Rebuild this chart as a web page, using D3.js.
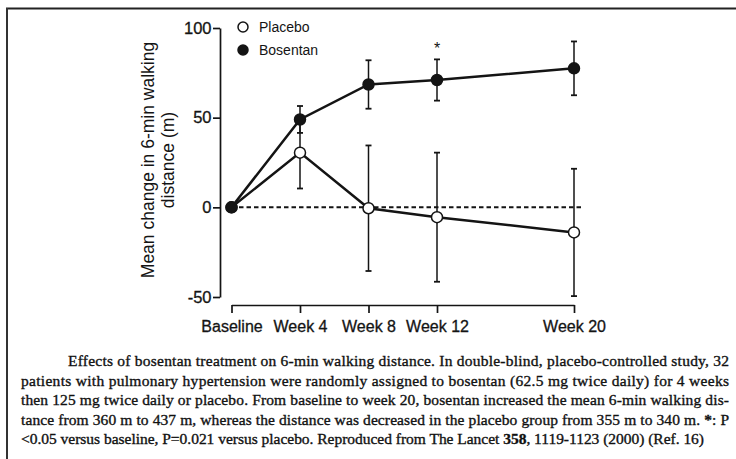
<!DOCTYPE html>
<html>
<head>
<meta charset="utf-8">
<script src="https://cdn.jsdelivr.net/npm/d3@7"></script>
<style>
  html, body { margin: 0; padding: 0; background: #fff; }
  svg { display: block; }
</style>
</head>
<body>
<svg id="chart" width="736" height="459"></svg>
<script>
// ---- data ----
const weeks = [0, 4, 8, 12, 20];
const tickLabels = ["Baseline", "Week 4", "Week 8", "Week 12", "Week 20"];
const yTicks = [-50, 0, 50, 100];
const placeboMean = [0, 30.5, -0.5, -5.5, -14];
const placeboErr = [0, 20, 35, 36, 35.5];
const bosentanMean = [0, 49, 68.5, 71, 77.5];
const bosentanErr = [0, 7.5, 13.5, 11.5, 15];
const seriesNames = ["Placebo", "Bosentan"];
const significantIndex = [3];

const captionLines = [
  [{t: "Effects of bosentan treatment on 6-min walking distance. In double-blind, placebo-controlled study, 32"}],
  [{t: "patients with pulmonary hypertension were randomly assigned to bosentan (62.5 mg twice daily) for 4 weeks"}],
  [{t: "then 125 mg twice daily or placebo. From baseline to week 20, bosentan increased the mean 6-min walking dis-"}],
  [{t: "tance from 360 m to 437 m, whereas the distance was decreased in the placebo group from 355 m to 340 m. "}, {t: "*", b: true}, {t: ": P"}],
  [{t: "<0.05 versus baseline, P=0.021 versus placebo. Reproduced from The Lancet "}, {t: "358", b: true}, {t: ", 1119-1123 (2000) (Ref. 16)"}]
];

// ---- layout ----
const svg = d3.select("#chart");
const ink = "#141414";
const sans = "'Liberation Sans', Arial, Helvetica, sans-serif";
const serif = "'Liberation Serif', 'Times New Roman', serif";

const x = d3.scaleLinear().domain([0, 20]).range([231.5, 574]);
const y = d3.scaleLinear().domain([-50, 100]).range([297, 28]);

// frame
svg.append("line").attr("x1", 6).attr("x2", 736).attr("y1", 8.5).attr("y2", 8.5)
  .attr("stroke", "#222").attr("stroke-width", 2);
svg.append("line").attr("x1", 7).attr("x2", 7).attr("y1", 8).attr("y2", 459)
  .attr("stroke", "#333").attr("stroke-width", 2);

// y axis
const yAxis = svg.append("g").attr("transform", "translate(220,0)")
  .call(d3.axisLeft(y).tickValues(yTicks).tickFormat(d => String(d))
    .tickSize(7).tickSizeOuter(0).tickPadding(1.5));
yAxis.select(".domain").attr("stroke", ink).attr("stroke-width", 1.7);
yAxis.selectAll(".tick line").attr("stroke", ink).attr("stroke-width", 1.7);
yAxis.selectAll(".tick text").attr("fill", ink).attr("font-family", sans).attr("font-size", 16.5)
  .attr("stroke", ink).attr("stroke-width", 0.3);

// x axis
const xAxis = svg.append("g").attr("transform", "translate(0,305)")
  .call(d3.axisBottom(x).tickValues(weeks).tickFormat((d, i) => tickLabels[i])
    .tickSize(8).tickSizeOuter(0).tickPadding(8));
xAxis.select(".domain").attr("stroke", ink).attr("stroke-width", 1.7);
xAxis.selectAll(".tick line").attr("stroke", ink).attr("stroke-width", 1.7);
xAxis.selectAll(".tick text").attr("fill", ink).attr("font-family", sans).attr("font-size", 16)
  .attr("stroke", ink).attr("stroke-width", 0.3);

// y label
const yl = svg.append("text").attr("transform", "translate(154,160) rotate(-90)")
  .attr("text-anchor", "middle").attr("font-family", sans).attr("font-size", 17.5).attr("fill", ink);
yl.append("tspan").attr("x", 0).attr("y", 0).text("Mean change in 6-min walking");
yl.append("tspan").attr("x", 0).attr("y", 20).text("distance (m)");

// zero reference line
svg.append("line").attr("x1", x(0)).attr("x2", x(20) + 8).attr("y1", y(0)).attr("y2", y(0))
  .attr("stroke", ink).attr("stroke-width", 2).attr("stroke-dasharray", "4.5,3");

// build series
const series = [
  {name: seriesNames[0], mean: placeboMean, err: placeboErr, fill: "#fff"},
  {name: seriesNames[1], mean: bosentanMean, err: bosentanErr, fill: ink}
].map(s => ({...s, pts: weeks.map((w, i) => ({w, m: s.mean[i], e: s.err[i]}))}));

// error bars
series.forEach(s => {
  const g = svg.append("g");
  s.pts.filter(p => p.e > 0).forEach(p => {
    g.append("line").attr("x1", x(p.w)).attr("x2", x(p.w))
      .attr("y1", y(p.m + p.e)).attr("y2", y(p.m - p.e))
      .attr("stroke", ink).attr("stroke-width", 1.5);
    [p.m + p.e, p.m - p.e].forEach(v => {
      g.append("line").attr("x1", x(p.w) - 3).attr("x2", x(p.w) + 3)
        .attr("y1", y(v)).attr("y2", y(v)).attr("stroke", ink).attr("stroke-width", 1.8);
    });
  });
});

// lines
const line = d3.line().x(p => x(p.w)).y(p => y(p.m));
series.forEach(s => {
  svg.append("path").datum(s.pts).attr("d", line)
    .attr("fill", "none").attr("stroke", ink).attr("stroke-width", 2.5);
});

// markers
series.forEach(s => {
  svg.append("g").selectAll("circle").data(s.pts).join("circle")
    .attr("cx", p => x(p.w)).attr("cy", p => y(p.m)).attr("r", 5.5)
    .attr("fill", s.fill).attr("stroke", ink).attr("stroke-width", 1.5);
});

// significance asterisk
significantIndex.forEach(i => {
  svg.append("text").attr("x", x(weeks[i])).attr("y", 54)
    .attr("text-anchor", "middle").attr("font-family", sans).attr("font-size", 16)
    .attr("fill", ink).text("*");
});

// legend
const legend = svg.append("g");
series.forEach((s, i) => {
  const ly = 27 + i * 23;
  legend.append("circle").attr("cx", 243).attr("cy", ly).attr("r", 5)
    .attr("fill", s.fill).attr("stroke", ink).attr("stroke-width", 1.5);
  legend.append("text").attr("x", 259).attr("y", ly).attr("dy", "0.35em")
    .attr("font-family", sans).attr("font-size", 14).attr("fill", ink).text(s.name);
});

// caption
const capX = [68, 21, 21, 21, 21];
const capEnd = [729, 729, 729, 729, 704];
const capY = [366, 385.5, 405, 424.5, 444];
captionLines.forEach((parts, i) => {
  const t = svg.append("text").attr("x", capX[i]).attr("y", capY[i])
    .attr("font-family", serif).attr("font-size", 15.5).attr("fill", "#111")
    .attr("stroke", "#111").attr("stroke-width", 0.35)
    .attr("textLength", capEnd[i] - capX[i]).attr("lengthAdjust", "spacing");
  parts.forEach(p => {
    t.append("tspan").attr("font-weight", p.b ? "bold" : null).text(p.t);
  });
});
</script>
</body>
</html>
